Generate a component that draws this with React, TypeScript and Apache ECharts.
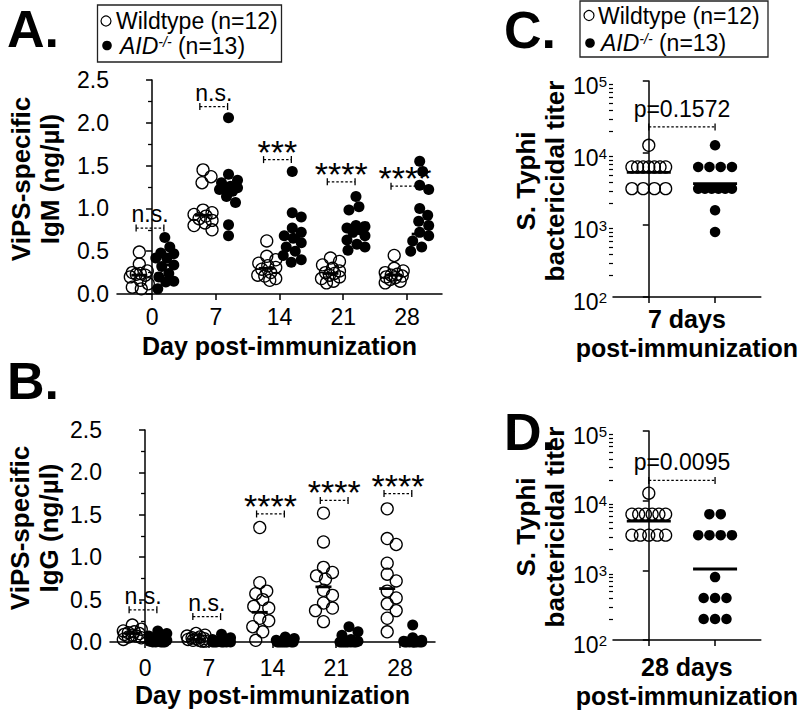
import React, { useEffect, useRef } from 'react';
import * as echarts from 'echarts';

const FONT = "'Liberation Sans', Arial, Helvetica, sans-serif";

// ---------- Panels A & B : ViPS-specific IgM / IgG (ng/µl) by day ----------
const days = [0, 7, 14, 21, 28];

const igmWildtype = [
  [0.49, 0.35, 0.27, 0.25, 0.24, 0.23, 0.22, 0.2, 0.16, 0.12, 0.08, 0.06],
  [1.45, 1.37, 1.3, 0.98, 0.95, 0.93, 0.91, 0.88, 0.86, 0.83, 0.8, 0.75],
  [0.62, 0.44, 0.4, 0.36, 0.33, 0.31, 0.29, 0.25, 0.22, 0.21, 0.18, 0.16],
  [0.42, 0.38, 0.34, 0.3, 0.27, 0.25, 0.24, 0.22, 0.2, 0.18, 0.15, 0.13],
  [0.45, 0.3, 0.27, 0.25, 0.23, 0.22, 0.21, 0.2, 0.19, 0.17, 0.15, 0.13],
];
const igmAid = [
  [0.66, 0.55, 0.48, 0.47, 0.42, 0.42, 0.34, 0.32, 0.24, 0.2, 0.15, 0.14, 0.06],
  [2.06, 1.4, 1.33, 1.3, 1.26, 1.24, 1.23, 1.22, 1.2, 1.14, 1.07, 0.81, 0.68],
  [1.43, 0.95, 0.9, 0.77, 0.72, 0.68, 0.65, 0.6, 0.55, 0.5, 0.45, 0.4, 0.37],
  [1.14, 1.02, 0.98, 0.8, 0.79, 0.77, 0.75, 0.72, 0.68, 0.63, 0.58, 0.55, 0.51],
  [1.55, 1.43, 1.27, 1.22, 1.0, 0.92, 0.85, 0.8, 0.72, 0.68, 0.62, 0.55, 0.5],
];
const igmWildtypeLine = [0.22, 0.92, 0.3, 0.24, 0.22];
const igmAidLine = [0.34, 1.22, 0.65, 0.76, 0.7];
const igmSigLabels = ['n.s.', 'n.s.', '***', '****', '****'];
const igmSigHeights = [0.77, 2.19, 1.57, 1.31, 1.26];

const iggWildtype = [
  [0.2, 0.15, 0.13, 0.12, 0.11, 0.1, 0.09, 0.08, 0.07, 0.06, 0.05, 0.03],
  [0.1, 0.08, 0.07, 0.06, 0.05, 0.04, 0.04, 0.03, 0.02, 0.02, 0.01, 0.01],
  [1.35, 0.7, 0.6, 0.57, 0.5, 0.42, 0.4, 0.28, 0.25, 0.18, 0.12, 0.02],
  [1.52, 1.18, 0.88, 0.82, 0.78, 0.74, 0.61, 0.55, 0.46, 0.4, 0.37, 0.24],
  [1.57, 1.22, 1.15, 0.93, 0.8, 0.72, 0.6, 0.52, 0.45, 0.37, 0.28, 0.12],
];
const iggAid = [
  [0.13, 0.1, 0.07, 0.05, 0.03, 0.02, 0.01, 0.01, 0, 0, 0, 0, 0],
  [0.09, 0.05, 0.03, 0.02, 0.01, 0.01, 0, 0, 0, 0, 0, 0, 0],
  [0.06, 0.04, 0.02, 0.01, 0.01, 0, 0, 0, 0, 0, 0, 0, 0],
  [0.18, 0.12, 0.08, 0.03, 0.01, 0, 0, 0, 0, 0, 0, 0, 0],
  [0.2, 0.05, 0.02, 0.01, 0, 0, 0, 0, 0, 0, 0, 0, 0],
];
const iggWildtypeLine = [0.1, 0.03, 0.35, 0.65, 0.63];
const iggAidLine = [0.05, 0.0, 0.02, 0.0, 0.03];
const iggSigLabels = ['n.s.', 'n.s.', '****', '****', '****'];
const iggSigHeights = [0.38, 0.3, 1.51, 1.67, 1.75];

// ---------- Panels C & D : S. Typhi bactericidal titer ----------
const day7Wildtype = [12800, 6400, 6400, 6400, 6400, 6400, 6400, 6400, 3200, 3200, 3200, 3200];
const day7Aid = [12800, 6400, 6400, 6400, 6400, 3200, 3200, 3200, 3200, 3200, 3200, 1600, 800];
const day7PLabel = 'p=0.1572';
const day7PHeight = 23000;

const day28Wildtype = [12800, 6400, 6400, 6400, 6400, 6400, 6400, 3200, 3200, 3200, 3200, 3200];
const day28Aid = [6400, 6400, 3200, 3200, 3200, 3200, 800, 400, 400, 400, 200, 200, 200];
const day28PLabel = 'p=0.0095';
const day28PHeight = 19500;

// minor ticks of the titer (log) axes
const minorTiterTicks: number[] = [];
for (const decade of [100, 1000, 10000]) for (let k = 2; k <= 9; k++) minorTiterTicks.push(k * decade);

// ---------- layout helpers ----------
const X_MIN = -3.85;
const X_MAX = 31.85;
const GRID_A = { left: 117, top: 80, width: 325, height: 214 };
const GRID_B = { left: 110, top: 430, width: 325, height: 212 };
const GRID_C = { left: 613, top: 81, width: 149, height: 216 };
const GRID_D = { left: 613, top: 431, width: 149, height: 209 };
const CX_MIN = -0.54;
const CX_MAX = 1.69;
const GROUP_SHIFT = 1.4; // days

function swarm(values: number[], pxPerUnit: number, diam: number, maxHalf: number) {
  const order = values.map((_, i) => i).sort((a, b) => values[b] - values[a]);
  const placed: { x: number; y: number }[] = [];
  const offs = new Array(values.length).fill(0);
  const cands = [0];
  for (let d = 1; d <= maxHalf; d++) cands.push(d, -d);
  for (const i of order) {
    const y = values[i] * pxPerUnit;
    let best = 0;
    let bestScore = -Infinity;
    for (const c of cands) {
      let minD = Infinity;
      for (const p of placed) {
        const d = Math.hypot(c - p.x, y - p.y);
        if (d < minD) minD = d;
      }
      if (minD >= diam) {
        best = c;
        break;
      }
      if (minD > bestScore + 0.01) {
        bestScore = minD;
        best = c;
      }
    }
    placed.push({ x: best, y });
    offs[i] = best;
  }
  return offs;
}

function rowOffsets(values: number[], diam: number, maxHalf: number) {
  const offs = new Array(values.length).fill(0);
  const seen = new Map<number, number[]>();
  values.forEach((v, i) => {
    if (!seen.has(v)) seen.set(v, []);
    seen.get(v)!.push(i);
  });
  seen.forEach((idx) => {
    const k = idx.length;
    const step = k > 1 ? Math.min(diam, (2 * maxHalf) / (k - 1)) : 0;
    idx.forEach((i, j) => {
      offs[i] = (j - (k - 1) / 2) * step;
    });
  });
  return offs;
}

function dayPoints(byDay: number[][], shift: number, pxPerY: number, pxPerX: number) {
  const out: number[][] = [];
  byDay.forEach((vals, i) => {
    const offs = swarm(vals, pxPerY, 10.5, 9);
    vals.forEach((v, j) => out.push([days[i] + shift + offs[j] / pxPerX, v]));
  });
  return out;
}

function titerPoints(vals: number[], center: number, pxPerX: number) {
  const offs = rowOffsets(vals, 11.5, 17);
  return vals.map((v, j) => [center + offs[j] / pxPerX, v]);
}

function geoMean(vals: number[]) {
  return Math.pow(10, vals.reduce((s, v) => s + Math.log10(v), 0) / vals.length);
}

const LINE = { color: '#000', width: 1.5 };

function openSeries(xi: number, yi: number, data: number[][], size = 12) {
  return {
    type: 'scatter', xAxisIndex: xi, yAxisIndex: yi, data, symbol: 'circle', symbolSize: size,
    silent: true, z: 3,
    itemStyle: { color: 'rgba(0,0,0,0)', borderColor: '#000', borderWidth: 1.3, opacity: 1 },
  };
}
function filledSeries(xi: number, yi: number, data: number[][], size = 11) {
  return {
    type: 'scatter', xAxisIndex: xi, yAxisIndex: yi, data, symbol: 'circle', symbolSize: size,
    silent: true, z: 3, itemStyle: { color: '#000', borderWidth: 0, opacity: 1 },
  };
}
function lineSeries(xi: number, yi: number, data: number[][], w: number) {
  return {
    type: 'scatter', xAxisIndex: xi, yAxisIndex: yi, data, symbol: 'rect', symbolSize: [w, 2.8],
    silent: true, z: 4, itemStyle: { color: '#000', opacity: 1 },
  };
}
function bracketSeries(xi: number, yi: number, data: number[][], labels: string[], minorTicks?: number[]) {
  return {
    type: 'custom', xAxisIndex: xi, yAxisIndex: yi, data, clip: false, silent: true, z: 5,
    encode: { x: [0, 1], y: 2 },
    renderItem: (params: any, api: any) => {
      const p1 = api.coord([api.value(0), api.value(2)]);
      const p2 = api.coord([api.value(1), api.value(2)]);
      const label = labels[params.dataIndex];
      const stars = label.startsWith('*');
      const isP = label.startsWith('p');
      const ls = { stroke: '#000', lineWidth: 1.3 };
      const dy = stars ? -8 : isP ? -18 : -14;
      const children: any[] = [
        { type: 'line', shape: { x1: p1[0], y1: p1[1], x2: p2[0], y2: p2[1] }, style: { ...ls, lineDash: [2.5, 2] } },
        { type: 'line', shape: { x1: p1[0], y1: p1[1] - 3.5, x2: p1[0], y2: p1[1] + 3.5 }, style: ls },
        { type: 'line', shape: { x1: p2[0], y1: p2[1] - 3.5, x2: p2[0], y2: p2[1] + 3.5 }, style: ls },
        {
          type: 'text', x: (p1[0] + p2[0]) / 2, y: p1[1] + dy,
          style: {
            text: label, fill: '#000', font: `${stars ? 34 : 23}px ${FONT}`,
            align: 'center', verticalAlign: 'middle', textAlign: 'center', textVerticalAlign: 'middle',
          },
        },
      ];
      if (minorTicks && params.dataIndex === 0) {
        minorTicks.forEach((v) => {
          const c = api.coord([CX_MIN, v]);
          children.push({
            type: 'line',
            shape: { x1: c[0] - 4, y1: Math.round(c[1]) + 0.5, x2: c[0], y2: Math.round(c[1]) + 0.5 },
            style: { stroke: '#000', lineWidth: 1.2 },
          });
        });
      }
      return { type: 'group', children };
    },
  };
}

function dayXAxis(gridIndex: number, gap: number, margin: number) {
  return {
    gridIndex, type: 'value', min: X_MIN, max: X_MAX,
    axisLine: { show: true, onZero: false, lineStyle: LINE },
    axisTick: { show: true, length: 6, customValues: days, lineStyle: LINE },
    axisLabel: { customValues: days, fontSize: 23, color: '#000', margin, fontFamily: FONT, lineHeight: 24 },
    splitLine: { show: false },
    name: 'Day post-immunization', nameLocation: 'middle', nameGap: gap,
    nameTextStyle: { fontSize: 25, fontWeight: 'bold', color: '#000', fontFamily: FONT, lineHeight: 29 },
  };
}
function linYAxis(gridIndex: number) {
  return {
    gridIndex, type: 'value', min: 0, max: 2.5, interval: 0.5, position: 'left',
    axisLine: { show: true, lineStyle: LINE },
    axisTick: { show: true, length: 6, lineStyle: LINE },
    minorTick: { show: true, splitNumber: 2, length: 4, lineStyle: { color: '#000', width: 1.3 } },
    axisLabel: { formatter: (v: number) => v.toFixed(1), fontSize: 23, color: '#000', margin: 8, fontFamily: FONT },
    splitLine: { show: false }, minorSplitLine: { show: false },
  };
}
function titerXAxis(gridIndex: number, name: string, gap: number) {
  return {
    gridIndex, type: 'value', min: CX_MIN, max: CX_MAX,
    axisLine: { show: true, onZero: false, lineStyle: LINE },
    axisTick: { show: true, length: 6, customValues: [0, 1], lineStyle: LINE },
    axisLabel: { show: false },
    splitLine: { show: false },
    name, nameLocation: 'middle', nameGap: gap,
    nameTextStyle: { fontSize: 25, fontWeight: 'bold', color: '#000', fontFamily: FONT, lineHeight: 29 },
  };
}
function logYAxis(gridIndex: number) {
  return {
    gridIndex, type: 'log', logBase: 10, min: 100, max: 100000, position: 'left',
    axisLine: { show: true, lineStyle: LINE },
    axisTick: { show: true, length: 6, lineStyle: LINE },
    axisLabel: {
      margin: 6, padding: [9, 0, 0, 0], color: '#000',
      formatter: (v: number) => `{b|10}{s|${Math.round(Math.log10(v))}}`,
      rich: {
        b: { fontSize: 23, fontFamily: FONT, color: '#000', lineHeight: 24 },
        s: { fontSize: 15, fontFamily: FONT, color: '#000', lineHeight: 14, verticalAlign: 'top' },
      },
    },
    splitLine: { show: false },
  };
}

const pxA = GRID_A.width / (X_MAX - X_MIN);
const pxYA = GRID_A.height / 2.5;
const pxYB = GRID_B.height / 2.5;
const pxC = GRID_C.width / (CX_MAX - CX_MIN);

function txt(x: number, y: number, text: string, font: string, lineHeight = 24) {
  return {
    type: 'text', x, y,
    style: {
      text, font, fill: '#000', lineHeight,
      align: 'left', verticalAlign: 'middle', textAlign: 'left', textVerticalAlign: 'middle',
    },
  };
}
function yTitle(x: number, y: number, text: string) {
  return {
    type: 'text', x, y, rotation: Math.PI / 2,
    style: {
      text, font: `bold 26px ${FONT}`, lineHeight: 29, fill: '#000',
      align: 'center', verticalAlign: 'middle', textAlign: 'center', textVerticalAlign: 'middle',
    },
  };
}
const legendRich = {
  i: { fontStyle: 'italic', fontSize: 23, fontFamily: FONT, color: '#000', lineHeight: 22 },
  s: { fontStyle: 'italic', fontSize: 14, fontFamily: FONT, color: '#000', lineHeight: 12, verticalAlign: 'top' },
  n: { fontSize: 23, fontFamily: FONT, color: '#000', lineHeight: 22 },
};
function legend(bx: number, by: number, bw: number, bh: number, cx: number, y1: number, y2: number, tx1: number, tx2: number) {
  return [
    { type: 'rect', shape: { x: bx, y: by, width: bw, height: bh }, style: { fill: 'none', stroke: '#222', lineWidth: 1.3 } },
    { type: 'circle', shape: { cx, cy: y1, r: 5 }, style: { fill: 'none', stroke: '#000', lineWidth: 1.2 } },
    txt(tx1, y1, 'Wildtype (n=12)', `23px ${FONT}`, 22),
    { type: 'circle', shape: { cx: cx + 1, cy: y2, r: 4.8 }, style: { fill: '#000' } },
    {
      type: 'text', x: tx2, y: y2,
      style: { text: '{i|AID}{s|-/-}{n| (n=13)}', rich: legendRich, fill: '#000', align: 'left', verticalAlign: 'middle', textAlign: 'left', textVerticalAlign: 'middle' },
    },
  ];
}

export default function App() {
  const ref = useRef<HTMLDivElement>(null);
  useEffect(() => {
    if (!ref.current) return;
    const chart = echarts.init(ref.current, undefined, { renderer: 'svg' });
    const option: any = {
      animation: false,
      textStyle: { fontFamily: FONT },
      grid: [GRID_A, GRID_B, GRID_C, GRID_D],
      xAxis: [
        dayXAxis(0, 37, 11),
        dayXAxis(1, 38, 14),
        titerXAxis(2, '7 days\npost-immunization', 7),
        titerXAxis(3, '28 days\npost-immunization', 12),
      ],
      yAxis: [linYAxis(0), linYAxis(1), logYAxis(2), logYAxis(3)],
      series: [
        openSeries(0, 0, dayPoints(igmWildtype, -GROUP_SHIFT, pxYA, pxA)),
        filledSeries(0, 0, dayPoints(igmAid, GROUP_SHIFT, pxYA, pxA)),
        lineSeries(0, 0, days.map((d, i) => [d - GROUP_SHIFT, igmWildtypeLine[i]]), 16),
        lineSeries(0, 0, days.map((d, i) => [d + GROUP_SHIFT, igmAidLine[i]]), 16),
        bracketSeries(0, 0, days.map((d, i) => [d - 1.75, d + 1.3, igmSigHeights[i]]), igmSigLabels),

        openSeries(1, 1, dayPoints(iggWildtype, -GROUP_SHIFT, pxYB, pxA)),
        filledSeries(1, 1, dayPoints(iggAid, GROUP_SHIFT, pxYB, pxA)),
        lineSeries(1, 1, days.map((d, i) => [d - GROUP_SHIFT, iggWildtypeLine[i]]), 16),
        lineSeries(1, 1, days.map((d, i) => [d + GROUP_SHIFT, iggAidLine[i]]), 16),
        bracketSeries(1, 1, days.map((d, i) => [d - 1.75, d + 1.3, iggSigHeights[i]]), iggSigLabels),

        openSeries(2, 2, titerPoints(day7Wildtype, 0, pxC), 12),
        filledSeries(2, 2, titerPoints(day7Aid, 1, pxC), 10.5),
        lineSeries(2, 2, [[0, geoMean(day7Wildtype)], [1, geoMean(day7Aid)]], 44),
        bracketSeries(2, 2, [[0, 1, day7PHeight]], [day7PLabel], minorTiterTicks),

        openSeries(3, 3, titerPoints(day28Wildtype, 0, pxC), 12),
        filledSeries(3, 3, titerPoints(day28Aid, 1, pxC), 10.5),
        lineSeries(3, 3, [[0, geoMean(day28Wildtype)], [1, geoMean(day28Aid)]], 44),
        bracketSeries(3, 3, [[0, 1, day28PHeight]], [day28PLabel], minorTiterTicks),
      ],
      graphic: [
        txt(7, 29, 'A.', `bold 52px ${FONT}`, 52),
        txt(7, 381, 'B.', `bold 52px ${FONT}`, 52),
        txt(504, 30, 'C.', `bold 52px ${FONT}`, 52),
        txt(504, 432, 'D.', `bold 52px ${FONT}`, 52),
        ...legend(97.5, 5, 184, 57, 106, 21, 45.5, 116, 120),
        ...legend(580, 1, 188, 56, 589, 15.5, 43, 598, 601),
        yTitle(35, 179, 'ViPS-specific\nIgM (ng/µl)'),
        yTitle(34, 528, 'ViPS-specific\nIgG (ng/µl)'),
        yTitle(540, 181, 'S. Typhi\nbactericidal titer'),
        yTitle(540, 527, 'S. Typhi\nbactericidal titer'),
      ],
    };
    chart.setOption(option);
    return () => chart.dispose();
  }, []);
  return <div ref={ref} style={{ position: 'absolute', left: 0, top: 0, width: 800, height: 714, background: '#fff' }} />;
}
